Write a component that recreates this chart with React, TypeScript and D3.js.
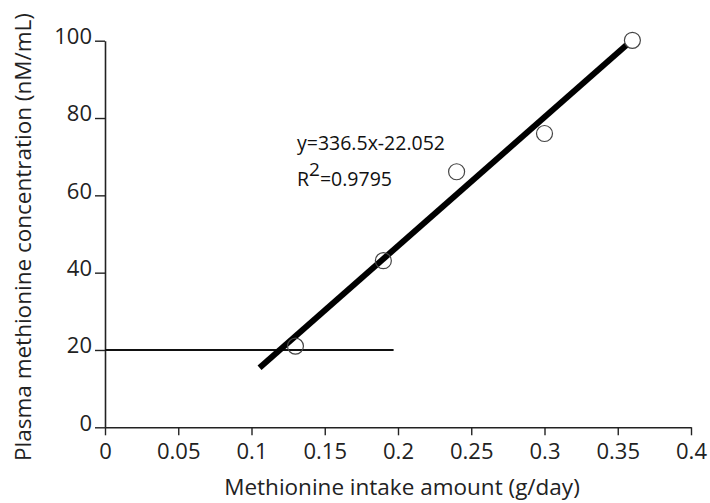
import React, { useEffect, useRef } from "react";
import * as d3 from "d3";

const xTicks = [0, 0.05, 0.1, 0.15, 0.2, 0.25, 0.3, 0.35, 0.4];
const yTicks = [0, 20, 40, 60, 80, 100];
const pointX = [0.13, 0.19, 0.24, 0.3, 0.36];
const pointY = [21, 43.1, 66.1, 76, 100.1];
const trendX = [0.1055, 0.356];
const trendY = [15.4, 98.9];
const refLineX = [0, 0.197];
const refLineY = [20, 20];
const equationText = "y=336.5x-22.052";
const r2Value = "=0.9795";
const xTitle = "Methionine intake amount (g/day)";
const yTitle = "Plasma methionine concentration (nM/mL)";

const FONT = "'Open Sans', sans-serif";

export default function App() {
  const ref = useRef<SVGSVGElement>(null);
  useEffect(() => {
    const svg = d3.select(ref.current);
    svg.selectAll("*").remove();
    const x = d3.scaleLinear().domain([0, 0.4]).range([105, 691]);
    const y = d3.scaleLinear().domain([0, 100]).range([427.3, 40.7]);

    const xAxis = svg
      .append("g")
      .attr("transform", `translate(0,${y(0)})`)
      .call(
        d3
          .axisBottom(x)
          .tickValues(xTicks)
          .tickFormat((d) => String(d))
          .tickSize(8)
          .tickSizeOuter(0)
          .tickPadding(8)
      );
    const yAxis = svg
      .append("g")
      .attr("transform", `translate(${x(0)},0)`)
      .call(
        d3
          .axisLeft(y)
          .tickValues(yTicks)
          .tickFormat((d) => String(d))
          .tickSize(10)
          .tickSizeOuter(0)
          .tickPadding(3)
      );
    [xAxis, yAxis].forEach((g) => {
      g.select(".domain").attr("stroke", "#222").attr("stroke-width", 1.6);
      g.selectAll(".tick line").attr("stroke", "#222").attr("stroke-width", 1.4);
      g.selectAll(".tick text")
        .attr("font-family", FONT)
        .attr("font-size", 22)
        .attr("fill", "#222");
    });
    yAxis.selectAll(".tick text").attr("dy", "0.13em");

    // horizontal reference line
    const line = d3
      .line<number>()
      .x((_, i) => x(refLineX[i]))
      .y((_, i) => y(refLineY[i]));
    svg
      .append("path")
      .attr("d", line(refLineX))
      .attr("stroke", "#111")
      .attr("stroke-width", 2)
      .attr("fill", "none");

    // trend line
    const tline = d3
      .line<number>()
      .x((_, i) => x(trendX[i]))
      .y((_, i) => y(trendY[i]));
    svg
      .append("path")
      .attr("d", tline(trendX))
      .attr("stroke", "#000")
      .attr("stroke-width", 6)
      .attr("fill", "none");

    // points
    svg
      .append("g")
      .selectAll("circle")
      .data(pointX)
      .join("circle")
      .attr("cx", (d) => x(d))
      .attr("cy", (_, i) => y(pointY[i]))
      .attr("r", 8)
      .attr("fill", "none")
      .attr("stroke", "#444")
      .attr("stroke-width", 1.2);

    // equation text
    svg
      .append("text")
      .attr("x", 297)
      .attr("y", 150)
      .attr("font-family", FONT)
      .attr("font-size", 19.5)
      .attr("fill", "#111")
      .text(equationText);
    const r2 = svg
      .append("text")
      .attr("x", 297)
      .attr("y", 186)
      .attr("font-family", FONT)
      .attr("font-size", 19.5)
      .attr("fill", "#111");
    r2.append("tspan").text("R");
    r2.append("tspan").attr("dy", -10).attr("font-size", 19).text("2");
    r2.append("tspan").attr("dy", 10).text(r2Value);

    // axis titles
    svg
      .append("text")
      .attr("x", 402)
      .attr("y", 495)
      .attr("text-anchor", "middle")
      .attr("font-family", FONT)
      .attr("font-size", 22.5)
      .attr("fill", "#222")
      .text(xTitle);
    svg
      .append("text")
      .attr("transform", `translate(31,237) rotate(-90)`)
      .attr("text-anchor", "middle")
      .attr("font-family", FONT)
      .attr("font-size", 22.5)
      .attr("fill", "#222")
      .text(yTitle);
  }, []);
  return (
    <svg
      ref={ref}
      width={710}
      height={503}
      style={{ position: "absolute", left: 0, top: 0, background: "#fff" }}
    />
  );
}
